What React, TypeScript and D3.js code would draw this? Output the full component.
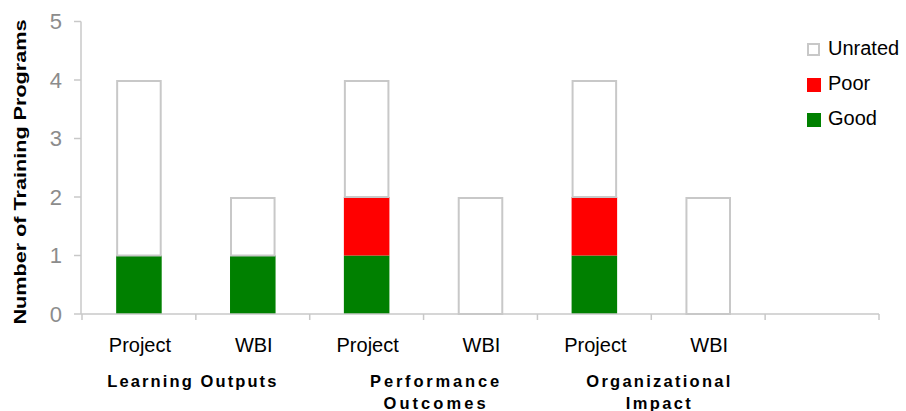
import * as d3 from 'd3'
import * as React from 'react'

//------------------------------data------------------------------
const barLabels = ['Project', 'WBI', 'Project', 'WBI', 'Project', 'WBI']
const goodValues = [1, 1, 1, 0, 1, 0]
const poorValues = [0, 0, 1, 0, 1, 0]
const unratedValues = [3, 1, 2, 2, 2, 2]
const groupLabels = [['Learning Outputs'], ['Performance', 'Outcomes'], ['Organizational', 'Impact']]
const yTicks = [0, 1, 2, 3, 4, 5]
const seriesNames = ['Good', 'Poor', 'Unrated']

const WIDTH = 906
const HEIGHT = 411
const SLOTS = 7 // one empty slot at the right end
const FONT = 'Arial, "Liberation Sans", Helvetica, sans-serif'
const AXIS = '#c8c8c8'
const COLORS: Record<string, string> = { Good: '#008000', Poor: '#ff0000', Unrated: '#ffffff' }
const groupOffsets = [-4, 11, 7]
const groupWidths = [[169], [129, 102], [144, 65]]

//------------------------------Component------------------------------
const App: React.FunctionComponent = () => {
  const x = d3
    .scaleBand<number>()
    .domain(d3.range(SLOTS))
    .range([82, 879])
    .paddingInner(0.6)
    .paddingOuter(0.3)
  const y = d3.scaleLinear().domain([0, 5]).range([314, 21.5])

  const rows = barLabels.map((_, i) => ({
    idx: i,
    Good: goodValues[i],
    Poor: poorValues[i],
    Unrated: unratedValues[i]
  }))
  const stacked = d3.stack<any>().keys(seriesNames)(rows)
  const step = x.step()
  const slotLeft = (i: number) => 82 + i * step

  return (
    <svg
      width={WIDTH}
      height={HEIGHT}
      style={{ position: 'absolute', left: 0, top: 0, fontFamily: FONT }}
    >
      {/* y title */}
      <text
        transform={`translate(26,172) rotate(-90)`}
        textAnchor="middle"
        fontSize={17}
        fontWeight="bold"
        textLength={305}
        lengthAdjust="spacingAndGlyphs"
        fill="#000"
      >
        Number of Training Programs
      </text>

      {/* y axis */}
      <line x1={81} x2={81} y1={y(5)} y2={y(0)} stroke={AXIS} strokeWidth={1.5} />
      {yTicks.map(t => (
        <g key={t}>
          <line x1={74} x2={81} y1={y(t)} y2={y(t)} stroke={AXIS} strokeWidth={1.5} />
          <text
            x={62}
            y={y(t)}
            dy="0.36em"
            textAnchor="end"
            fontSize={22}
            fill="#8c8c8c"
          >
            {t}
          </text>
        </g>
      ))}

      {/* bars */}
      {stacked.map(layer =>
        layer.map((d, i) => {
          const h = y(d[0]) - y(d[1])
          if (h <= 0) return null
          const isUnrated = layer.key === 'Unrated'
          return (
            <rect
              key={layer.key + i}
              x={x(i)! + (isUnrated ? 1 : 0)}
              width={x.bandwidth() - (isUnrated ? 2 : 0)}
              y={y(d[1]) + (isUnrated ? 1 : 0)}
              height={h - (isUnrated ? 1 : 0)}
              fill={COLORS[layer.key]}
              stroke={isUnrated ? AXIS : 'none'}
              strokeWidth={2}
            />
          )
        })
      )}

      {/* x axis */}
      <line x1={81} x2={879} y1={y(0)} y2={y(0)} stroke={AXIS} strokeWidth={1.5} />
      {d3.range(SLOTS + 1).map(i => (
        <line
          key={i}
          x1={slotLeft(i)}
          x2={slotLeft(i)}
          y1={y(0)}
          y2={y(0) + 6}
          stroke={AXIS}
          strokeWidth={1.5}
        />
      ))}
      {barLabels.map((lab, i) => (
        <text
          key={i}
          x={x(i)! + x.bandwidth() / 2 + 1}
          y={352}
          textAnchor="middle"
          fontSize={20}
          fill="#000"
        >
          {lab}
        </text>
      ))}
      {groupLabels.map((lines, g) => {
        const cx = (x(g * 2)! + x(g * 2 + 1)! + x.bandwidth()) / 2 + groupOffsets[g]
        return lines.map((ln, k) => (
          <text
            key={g + '-' + k}
            x={cx}
            y={387 + k * 22}
            textAnchor="middle"
            fontSize={16.5}
            fontWeight="bold"
            textLength={groupWidths[g][k]}
            lengthAdjust="spacing"
            fill="#000"
          >
            {ln}
          </text>
        ))
      })}

      {/* legend */}
      {['Unrated', 'Poor', 'Good'].map((name, i) => (
        <g key={name} transform={`translate(807,${43 + i * 35})`}>
          {name === 'Unrated' ? (
            <rect x={1} y={1} width={11} height={11} fill="#fff" stroke={AXIS} strokeWidth={2} />
          ) : (
            <rect x={0} y={0} width={14} height={14} fill={COLORS[name]} />
          )}
          <text x={21} y={12} fontSize={20} fill="#000">
            {name}
          </text>
        </g>
      ))}
    </svg>
  )
}

export default App
